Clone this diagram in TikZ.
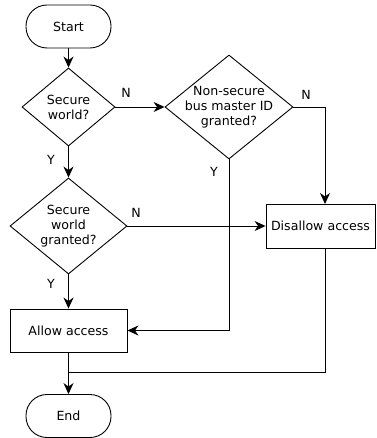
\documentclass[tikz,border=0pt]{standalone}
\usepackage{fontspec}
\setmainfont{DejaVu Sans}
\usetikzlibrary{shapes.geometric,arrows.meta}
\begin{document}
\begin{tikzpicture}[x=1pt,y=-1pt,
  every node/.style={font=\fontsize{12.6}{15}\selectfont},
  terminal/.style={draw,rectangle,rounded corners=21pt,minimum width=85pt,minimum height=43pt,inner sep=0pt,line width=0.9pt},
  decision/.style={draw,diamond,inner sep=0pt,line width=0.9pt},
  action/.style={draw,rectangle,inner sep=0pt,line width=0.9pt},
  caption/.style={align=center,inner sep=0pt},
  flow/.style={line width=0.9pt,-{Stealth[length=11pt,width=10pt,inset=3.5pt]}},
  plain/.style={line width=0.9pt},
  yn/.style={inner sep=0pt}]
\useasboundingbox (0,0) rectangle (376,438);

% terminals
\node[terminal] (start) at (68.5,26.5) {Start};
\node[terminal] (end) at (68.5,416) {End};

% decisions (shape and text kept apart so the text may reach past the edges)
\node[decision,minimum width=93pt,minimum height=78pt] (d1) at (68.5,107) {};
\node[caption] (d1t) at (68.5,107.5) {Secure\\world?};
\node[decision,minimum width=128pt,minimum height=104pt] (d2) at (229,107) {};
\node[caption] (d2t) at (229,107) {Non-secure\\bus master ID\\granted?};
\node[decision,minimum width=117pt,minimum height=96pt] (d3) at (68.5,226) {};
\node[caption] (d3t) at (68.5,226) {Secure\\world\\granted?};

% actions
\node[action,minimum width=117pt,minimum height=43pt] (allow) at (68.5,330.5) {Allow access};
\node[action,minimum width=109pt,minimum height=44pt] (deny) at (320.5,226) {Disallow access};

% branch labels
\node[yn] (n1) at (126,93) {N};
\node[yn] (y1) at (51,160) {Y};
\node[yn] (n2) at (306,95) {N};
\node[yn] (y2) at (214,172) {Y};
\node[yn] (n3) at (136,213) {N};
\node[yn] (y3) at (51,284) {Y};

% joints on the access boxes
\coordinate (denyin) at (325,204);
\coordinate (denyout) at (325,248);
\coordinate (merge) at (68.5,372);

% connectors
\draw[flow] (start) -- (d1);
\draw[flow] (d1.east) -- (d2.west);
\draw[flow] (d1.south) -- (d3.north);
\draw[flow] (d2.east) -| (denyin);
\draw[flow] (d2.south) |- (allow.east);
\draw[flow] (d3.east) -- (deny.west);
\draw[flow] (d3.south) -- (allow.north);
\draw[flow] (allow.south) -- (end.north);
\draw[plain] (denyout) |- (merge);
\end{tikzpicture}
\end{document}
